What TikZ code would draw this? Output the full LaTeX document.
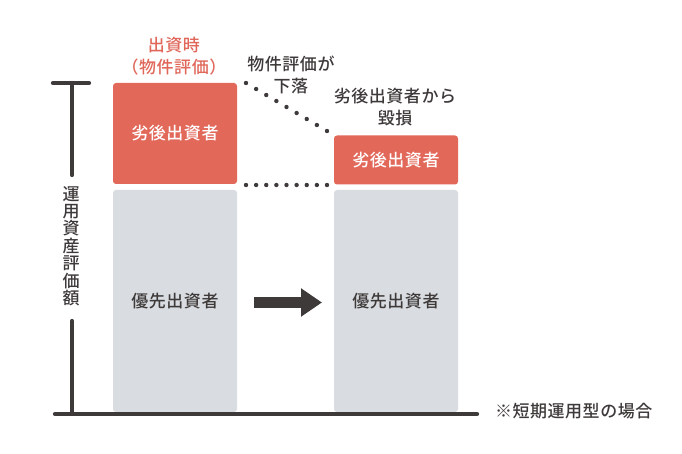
\documentclass[tikz,border=0pt]{standalone}
\usepackage{fontspec}
\setmainfont{Noto Sans CJK JP}[UprightFont={* Medium}, LetterSpace=3]
\usetikzlibrary{calc,arrows.meta}
\definecolor{redbox}{HTML}{E2685A}
\definecolor{graybox}{HTML}{D9DCE0}
\definecolor{ink}{HTML}{3E3A39}
\definecolor{redtext}{HTML}{E0675A}
\tikzset{
  box/.style={rounded corners=3pt, inner sep=0pt, minimum width=124pt, text=ink, font=\fontsize{17}{20}\selectfont},
  redstack/.style={box, fill=redbox, text=white},
  graystack/.style={box, fill=graybox},
  lbl/.style={text=ink, align=center, inner sep=0pt, font=\fontsize{17}{22}\selectfont},
  axis/.style={draw=ink, line width=4.2pt, line cap=round},
  dot/.style={fill=ink},
}
\begin{document}
\begin{tikzpicture}[x=1pt,y=-1pt]
\useasboundingbox[fill=white] (0,0) rectangle (682,454);
% boxes
\node[redstack, minimum height=101pt] (lred) at (175,133.5) {劣後出資者};
\node[graystack, minimum height=222pt] (lgray) at (175,301) {優先出資者};
\node[redstack, minimum height=49pt] (rred) at (396,160) {劣後出資者};
\node[graystack, minimum height=222pt] (rgray) at (396,301) {優先出資者};
% axes
\coordinate (tl) at (53,83);
\coordinate (tr) at (89,83);
\coordinate (vt) at (72,83);
\coordinate (vm1) at (72,175);
\coordinate (vm2) at (72,321);
\coordinate (vb) at (72,414);
\coordinate (bl) at (55,414);
\coordinate (br) at (477,414);
\draw[axis] (tl) -- (tr);
\draw[axis] (vt) -- (vm1);
\draw[axis] (vm2) -- (vb);
\draw[axis] (bl) -- (br);
\node[lbl, font=\fontsize{17}{17.4}\selectfont] (ylab) at (71,246) {運\\用\\資\\産\\評\\価\\額};
% dots
\coordinate (d1a) at (246,83);
\coordinate (d1b) at (327,131);
\coordinate (d2a) at (246,185);
\coordinate (d2b) at (327,185);
\foreach \i in {0,...,8} {
  \fill[dot] ($(d1a)!\i/8!(d1b)$) circle (2.2pt);
  \fill[dot] ($(d2a)!\i/8!(d2b)$) circle (2.2pt);
}
% arrow
\coordinate (a1) at (254,302.5);
\coordinate (a2) at (322,302.5);
\draw[ink, line width=11pt, -{Triangle[length=21pt 0, width=27pt 0]}] (a1) -- (a2);
% labels
\node[lbl, text=redtext] (top) at (174,56) {出資時\\（物件評価）};
\node[lbl] (fall) at (291,75) {物件評価が\\下落};
\node[lbl] (loss) at (395,107) {劣後出資者から\\毀損};
\node[lbl, anchor=west] (note) at (495,411) {※短期運用型の場合};
\end{tikzpicture}
\end{document}
